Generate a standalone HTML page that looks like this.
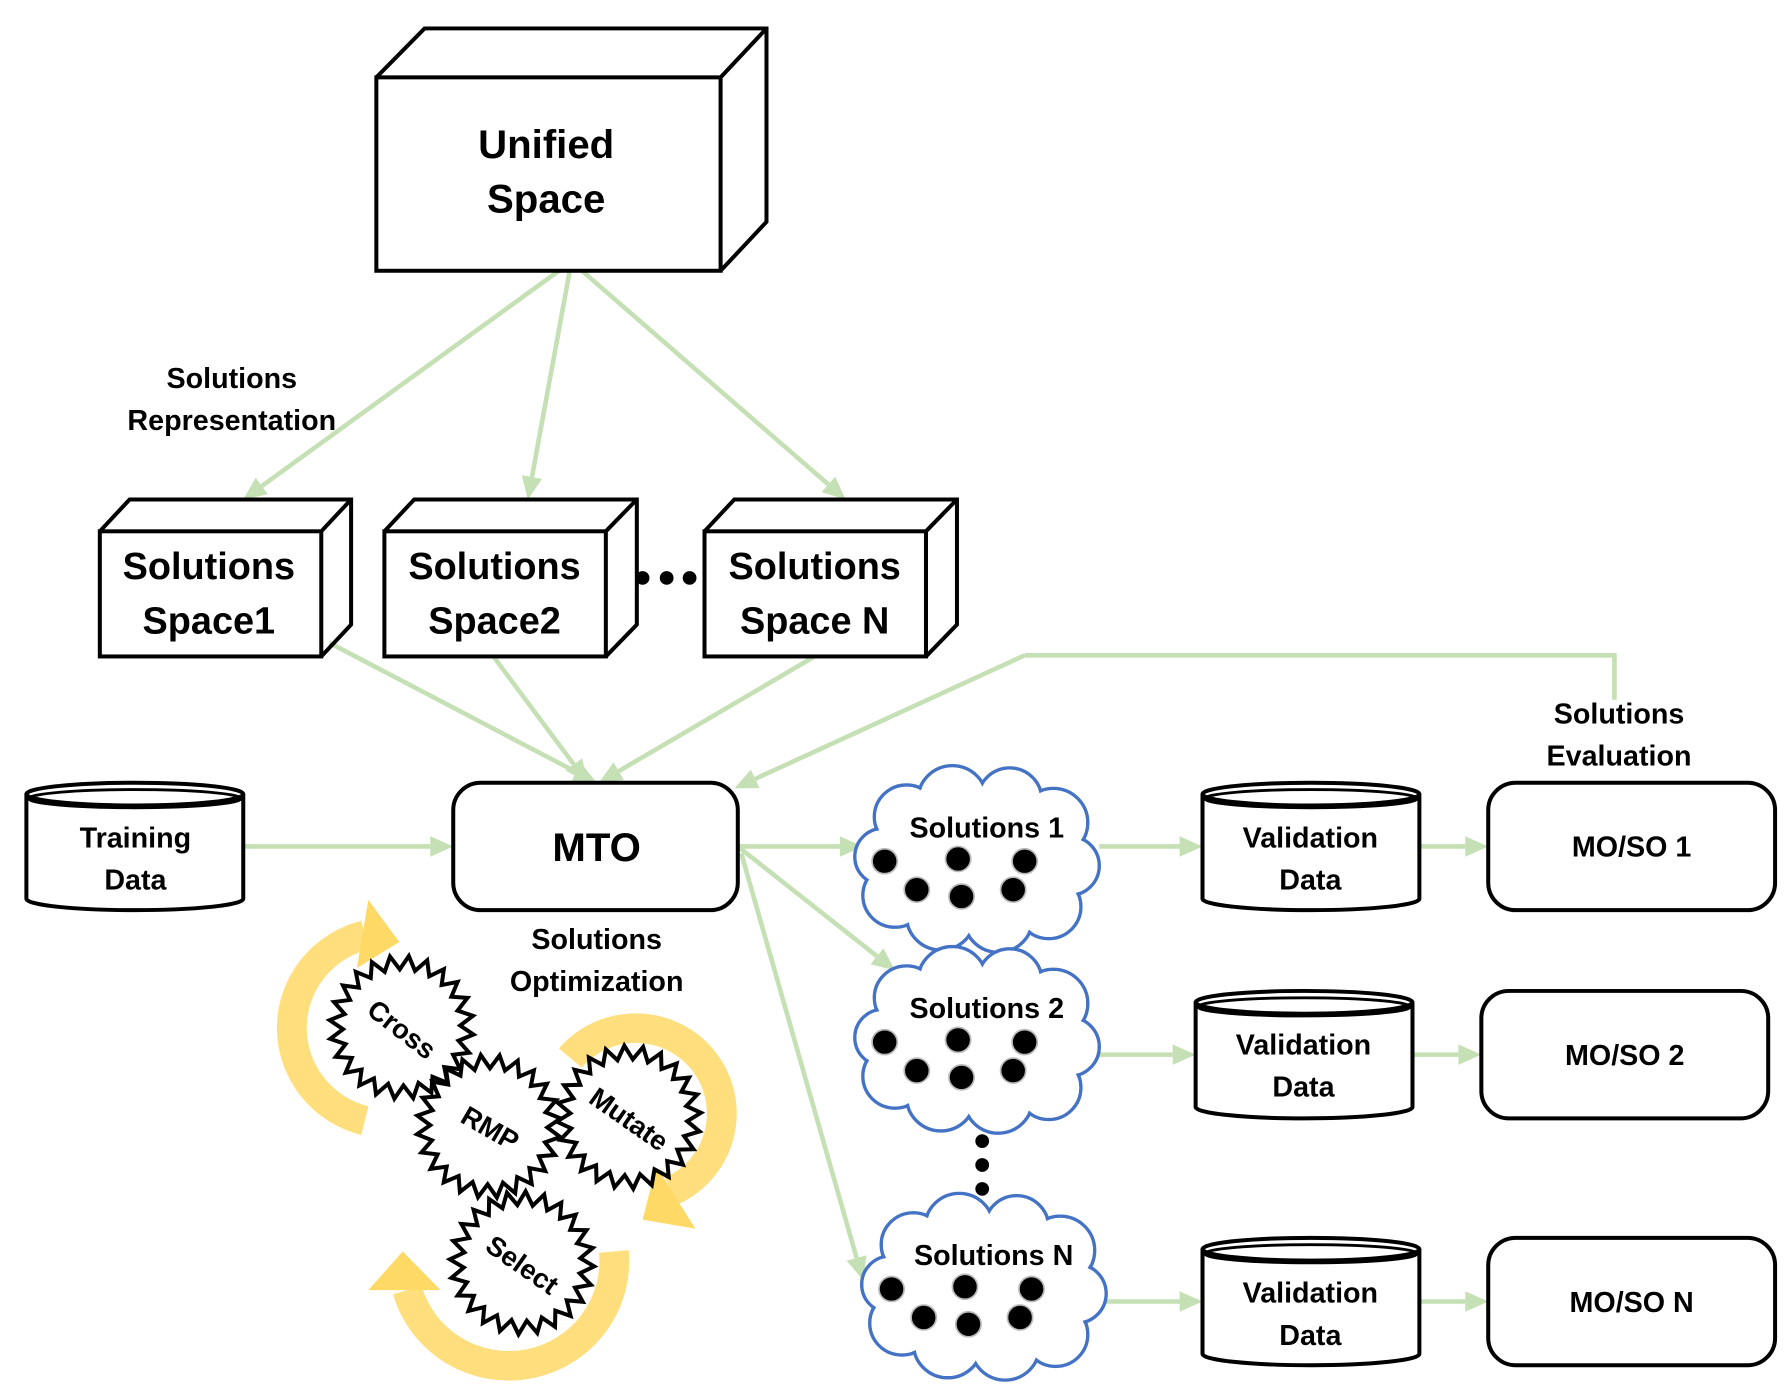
<!DOCTYPE html>
<html><head><meta charset="utf-8"><style>
html,body{margin:0;padding:0;background:#fff;}
svg{display:block;}
text{font-family:"Liberation Sans",sans-serif;font-weight:bold;fill:#000;text-anchor:middle;}
</style></head><body>
<svg width="1790" height="1388" viewBox="0 0 1560 1220" preserveAspectRatio="none" xmlns="http://www.w3.org/2000/svg">
<g id="greens" stroke="#c5e0b4" stroke-width="4" fill="none"></g>
<g fill="none" stroke="#000" stroke-width="3.5" stroke-linejoin="miter">
<rect x="328" y="68" width="300" height="170" fill="#fff"/>
<polyline points="328,68 370,25 668,25 668,195 628,238"/>
<line x1="628" y1="68" x2="668" y2="25"/>
<rect x="87" y="467" width="193" height="110" fill="#fff"/>
<polyline points="87,467 113,439 306,439 306,549 280,577"/><line x1="280" y1="467" x2="306" y2="439"/>
<rect x="335" y="467" width="193" height="110" fill="#fff"/>
<polyline points="335,467 361,439 555,439 555,549 528,577"/><line x1="528" y1="467" x2="555" y2="439"/>
<rect x="614" y="467" width="193" height="110" fill="#fff"/>
<polyline points="614,467 640,439 834,439 834,549 807,577"/><line x1="807" y1="467" x2="834" y2="439"/>
<rect x="395" y="688" width="248" height="112" rx="24" fill="#fff"/>
<rect x="1297" y="688" width="250" height="112" rx="24" fill="#fff"/>
<rect x="1291" y="871" width="250" height="112" rx="24" fill="#fff"/>
<rect x="1297" y="1088" width="250" height="112" rx="24" fill="#fff"/>
</g>
<g id="cyl" fill="#fff" stroke="#000" stroke-width="3.5"></g>
<g fill="#000"><circle cx="560" cy="508" r="6"/><circle cx="581" cy="508" r="6"/><circle cx="601" cy="508" r="6"/>
<circle cx="856" cy="1003" r="6"/><circle cx="856" cy="1024" r="6"/><circle cx="856" cy="1045" r="6"/></g>
<g id="clouds"></g>
<g fill="none" stroke-width="26">
<path d="M318,985 A84,84 0 0 1 318,822" stroke="#ffd966" opacity="0.85"/>
<path d="M497,930 A75,75 0 1 1 585,1047" stroke="#ffd966" opacity="0.85"/>
<path d="M535,1100 A92,92 0 0 1 355,1134" stroke="#ffd966" opacity="0.85"/>
</g>
<g fill="#ffd966">
<polygon points="321,791 348,828 311,851"/>
<polygon points="572,1025 606,1080 560,1072"/>
<polygon points="351,1100 321,1134 384,1134"/>
</g>
<g id="stars"></g>
<g font-size="35">
<text x="476" y="139">Unified</text><text x="476" y="187">Space</text>
</g>
<g font-size="33">
<text x="182" y="509">Solutions</text><text x="182" y="557">Space1</text>
<text x="431" y="509">Solutions</text><text x="431" y="557">Space2</text>
<text x="710" y="509">Solutions</text><text x="710" y="557">Space N</text>
</g>
<text x="520" y="757" font-size="35">MTO</text>
<g font-size="25">
<text x="202" y="341">Solutions</text><text x="202" y="378">Representation</text>
<text x="1411" y="636">Solutions</text><text x="1411" y="673">Evaluation</text>
<text x="520" y="834">Solutions</text><text x="520" y="871">Optimization</text>
<text x="118" y="745">Training</text><text x="118" y="782">Data</text>
<text x="1142" y="745">Validation</text><text x="1142" y="782">Data</text>
<text x="1136" y="927">Validation</text><text x="1136" y="964">Data</text>
<text x="1142" y="1145">Validation</text><text x="1142" y="1182">Data</text>
<text x="1422" y="753">MO/SO 1</text>
<text x="1416" y="936">MO/SO 2</text>
<text x="1422" y="1153">MO/SO N</text>
<text x="860" y="736">Solutions 1</text>
<text x="860" y="895">Solutions 2</text>
<text x="866" y="1112">Solutions N</text>
</g>
<g font-size="24">
<text transform="translate(350,905) rotate(38)" y="8">Cross</text>
<text transform="translate(427,992) rotate(30)" y="8">RMP</text>
<text transform="translate(548,984) rotate(35)" y="8">Mutate</text>
<text transform="translate(455,1112) rotate(35)" y="8">Select</text>
</g>
<script>
var NS="http://www.w3.org/2000/svg";
function el(p,t,a){var e=document.createElementNS(NS,t);for(var k in a)e.setAttribute(k,a[k]);p.appendChild(e);return e;}
var G=document.getElementById('greens');
function arrow(x1,y1,x2,y2){
 var dx=x2-x1,dy=y2-y1,L=Math.hypot(dx,dy),ux=dx/L,uy=dy/L,h=20,w=9;
 var bx=x2-ux*h,by=y2-uy*h;
 el(G,'line',{x1:x1,y1:y1,x2:bx,y2:by});
 el(G,'polygon',{points:x2+','+y2+' '+(bx-uy*w)+','+(by+ux*w)+' '+(bx+uy*w)+','+(by-ux*w),fill:'#c5e0b4',stroke:'none'});
}
arrow(498,230,212,439);arrow(498,230,460,439);arrow(498,230,737,439);
arrow(287,565,520,688);arrow(430,577,512,688);arrow(710,577,522,688);
el(G,'polyline',{points:'1407,615 1407,576 893,576'});arrow(893,576,640,693);
arrow(212,744,395,744);
arrow(643,744,752,744);arrow(643,744,780,853);arrow(646,750,752,1125);
arrow(958,744,1048,744);arrow(955,927,1042,927);arrow(962,1144,1048,1144);
arrow(1237,744,1297,744);arrow(1231,927,1291,927);arrow(1237,1144,1297,1144);
var C=document.getElementById('cyl');
function cyl(x,y,w,h){var rx=w/2,ry=10,cx=x+rx;
 el(C,'path',{d:'M'+x+','+(y+ry)+' L'+x+','+(y+h-ry)+' A'+rx+','+ry+' 0 0 0 '+(x+w)+','+(y+h-ry)+' L'+(x+w)+','+(y+ry)});
 el(C,'ellipse',{cx:cx,cy:y+ry,rx:rx,ry:ry});
 el(C,'ellipse',{cx:cx,cy:y+ry+4,rx:rx-2,ry:ry-2,fill:'none','stroke-width':2.5});
}
cyl(23,688,189,112);cyl(1048,688,189,112);cyl(1042,871,189,112);cyl(1048,1088,189,112);
var CL=document.getElementById('clouds');
var circ=[[-62,-37,28],[-22,-52,30],[28,-52,28],[66,-32,30],[80,6,26],[62,42,28],[18,52,30],[-32,50,30],[-72,32,28],[-82,-2,25]];
function cloud(cx,cy,dots){
 var g1=el(CL,'g',{fill:'none',stroke:'#4472c4','stroke-width':3});
 var g2=el(CL,'g',{fill:'#fff'});
 circ.forEach(function(c){el(g1,'circle',{cx:cx+c[0],cy:cy+c[1],r:c[2]});el(g2,'circle',{cx:cx+c[0],cy:cy+c[1],r:c[2]-1.5});});
 el(g2,'ellipse',{cx:cx,cy:cy,rx:80,ry:55});
 dots.forEach(function(d){el(CL,'circle',{cx:cx+d[0],cy:cy+d[1],r:11,fill:'#000',stroke:'#bbb','stroke-width':1.5});});
}
var D=[[-81,2],[-17,0],[41,2],[-53,27],[-14,33],[31,27]];
cloud(852,755,D);cloud(852,914,D);cloud(858,1131,D);
var S=document.getElementById('stars');
function star(cx,cy,R,r,n,rot){var p=[];for(var i=0;i<2*n;i++){var a=rot+i*Math.PI/n,rr=i%2?r:R;p.push((cx+rr*Math.cos(a)).toFixed(1)+','+(cy+rr*Math.sin(a)).toFixed(1));}
 el(S,'polygon',{points:p.join(' '),fill:'#fff',stroke:'#000','stroke-width':3.5,'stroke-linejoin':'miter'});}
star(350,903,63,51,24,0.1);star(548,982,63,51,24,0.2);star(455,1110,63,51,24,0.05);star(426,990,63,51,24,0.15);
</script>
</svg>
</body></html>
